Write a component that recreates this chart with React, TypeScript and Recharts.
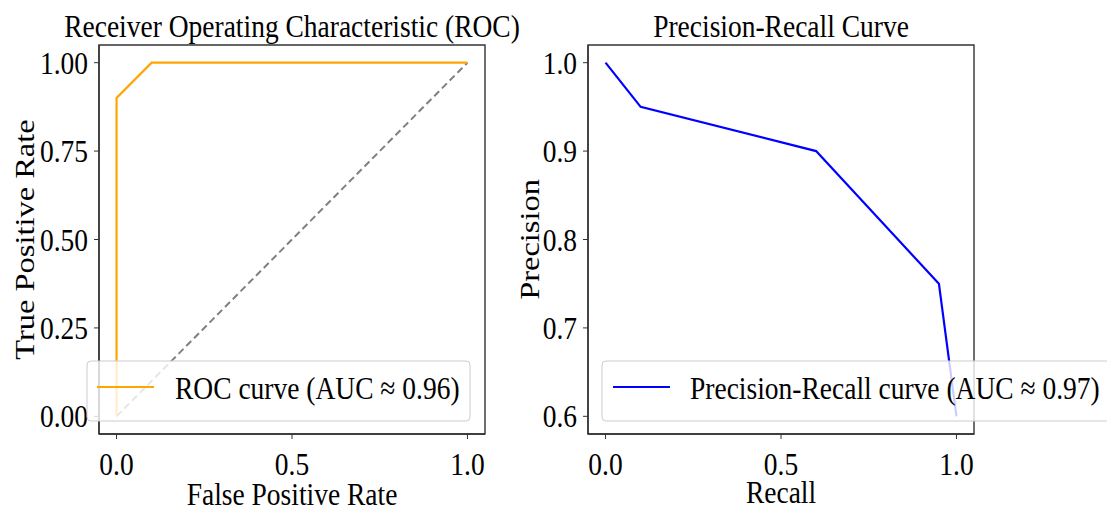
import React from "react";
import { LineChart, Line, XAxis, YAxis, ReferenceArea } from "recharts";

// ROC curve points
const rocFpr = [0, 0, 0.1, 1];
const rocTpr = [0, 0.9, 1, 1];
// chance diagonal
const chanceFpr = [0, 1];
const chanceTpr = [0, 1];
// precision-recall curve points
const prRecall = [0, 0.1, 0.6, 0.95, 1];
const prPrecision = [1, 0.95, 0.9, 0.75, 0.6];

const xTicks = [0, 0.5, 1];
const rocYTicks = [0, 0.25, 0.5, 0.75, 1];
const prYTicks = [0.6, 0.7, 0.8, 0.9, 1.0];

const rocData = rocFpr.map((x, i) => ({ x, y: rocTpr[i] }));
const chanceData = chanceFpr.map((x, i) => ({ x, y: chanceTpr[i] }));
const prData = prRecall.map((x, i) => ({ x, y: prPrecision[i] }));

const FONT = '"Liberation Serif", "Times New Roman", serif';
const FS = 27.5;
const SY = 1.18; // text is drawn slightly taller than wide
const INK = "#333";

function SText({ x, y, anchor = "middle", rotate = 0, children }: any) {
  const t = `translate(${x},${y}) scale(1,${SY})` + (rotate ? ` rotate(${rotate})` : "");
  return (
    <text transform={t} textAnchor={anchor} fontFamily={FONT} fontSize={FS} fill="#000">
      {children}
    </text>
  );
}

const xTick = (digits: number) => (p: any) => (
  <SText x={p.x} y={p.y + 34}>{Number(p.payload.value).toFixed(digits)}</SText>
);
const yTick = (digits: number) => (p: any) => (
  <SText x={p.x - 4} y={p.y + 11} anchor="end">{Number(p.payload.value).toFixed(digits)}</SText>
);

function RocChart() {
  return (
    <LineChart width={540} height={510} margin={{ top: 45, right: 55, bottom: 0, left: 0 }}>
      <XAxis
        type="number"
        dataKey="x"
        domain={[-0.05, 1.05]}
        ticks={xTicks}
        height={76}
        tickSize={5}
        axisLine={{ stroke: INK, strokeWidth: 1.4 }}
        tickLine={{ stroke: INK }}
        tick={xTick(1)}
        label={(p: any) => (
          <SText x={p.viewBox.x + p.viewBox.width / 2} y={505}>False Positive Rate</SText>
        )}
      />
      <YAxis
        type="number"
        dataKey="y"
        domain={[-0.05, 1.05]}
        ticks={rocYTicks}
        width={99}
        tickSize={5}
        axisLine={{ stroke: INK, strokeWidth: 1.4 }}
        tickLine={{ stroke: INK }}
        tick={yTick(2)}
        label={(p: any) => (
          <SText x={34} y={p.viewBox.y + p.viewBox.height / 2} rotate={-90}>True Positive Rate</SText>
        )}
      />
      <ReferenceArea x1={-0.05} x2={1.05} y1={-0.05} y2={1.05} fill="none" stroke={INK} strokeWidth={1.4} />
      <Line data={chanceData} dataKey="y" stroke="#808080" strokeWidth={2} strokeDasharray="7 4" dot={false} isAnimationActive={false} />
      <Line data={rocData} dataKey="y" stroke="#FFA500" strokeWidth={2.2} dot={false} isAnimationActive={false} />
    </LineChart>
  );
}

function PrChart() {
  return (
    <LineChart width={617} height={510} margin={{ top: 45, right: 133, bottom: 0, left: 0 }}>
      <XAxis
        type="number"
        dataKey="x"
        domain={[-0.05, 1.05]}
        ticks={xTicks}
        height={76}
        tickSize={5}
        axisLine={{ stroke: INK, strokeWidth: 1.4 }}
        tickLine={{ stroke: INK }}
        tick={xTick(1)}
        label={(p: any) => (
          <SText x={p.viewBox.x + p.viewBox.width / 2} y={503}>Recall</SText>
        )}
      />
      <YAxis
        type="number"
        dataKey="y"
        domain={[0.58, 1.02]}
        ticks={prYTicks}
        width={98}
        tickSize={5}
        axisLine={{ stroke: INK, strokeWidth: 1.4 }}
        tickLine={{ stroke: INK }}
        tick={yTick(1)}
        label={(p: any) => (
          <SText x={49} y={p.viewBox.y + p.viewBox.height / 2} rotate={-90}>Precision</SText>
        )}
      />
      <ReferenceArea x1={-0.05} x2={1.05} y1={0.58} y2={1.02} fill="none" stroke={INK} strokeWidth={1.4} />
      <Line data={prData} dataKey="y" stroke="#0000FF" strokeWidth={2.2} dot={false} isAnimationActive={false} />
    </LineChart>
  );
}

export default function App() {
  return (
    <div style={{ position: "absolute", left: 0, top: 0, width: 1107, height: 510, background: "#fff", overflow: "hidden" }}>
      <div style={{ position: "absolute", left: 0, top: 0 }}>
        <RocChart />
      </div>
      <div style={{ position: "absolute", left: 490, top: 0 }}>
        <PrChart />
      </div>
      <svg width={1107} height={510} style={{ position: "absolute", left: 0, top: 0, pointerEvents: "none" }}>
        <SText x={292} y={37}>Receiver Operating Characteristic (ROC)</SText>
        <SText x={781} y={37}>Precision-Recall Curve</SText>

        <rect x={87} y={361} width={383} height={60} rx={4} fill="#fff" fillOpacity={0.8} stroke="#ccc" />
        <line x1={97} x2={154} y1={387} y2={387} stroke="#FFA500" strokeWidth={2.2} />
        <SText x={175} y={399} anchor="start">ROC curve (AUC ≈ 0.96)</SText>

        <rect x={602} y={361} width={520} height={60} rx={4} fill="#fff" fillOpacity={0.8} stroke="#ccc" />
        <line x1={613} x2={670} y1={387} y2={387} stroke="#0000FF" strokeWidth={2.2} />
        <SText x={690} y={399} anchor="start">Precision-Recall curve (AUC ≈ 0.97)</SText>
      </svg>
    </div>
  );
}
